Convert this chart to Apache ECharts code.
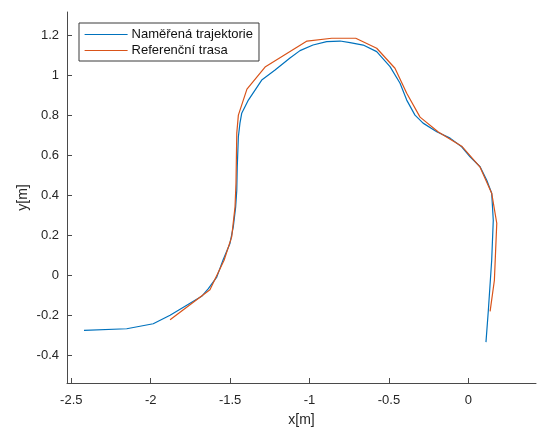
<!DOCTYPE html>
<html>
<head>
<meta charset="utf-8">
<script src="https://cdn.jsdelivr.net/npm/echarts@6/dist/echarts.min.js"></script>
<style>
  html, body { margin: 0; padding: 0; background: #fff; }
  #chart { width: 540px; height: 427px; }
</style>
</head>
<body>
<div id="chart"></div>
<script>
// measured trajectory (x, y in metres)
const measuredX = [-2.420, -2.151, -1.984, -1.878, -1.773, -1.679, -1.637, -1.584, -1.545, -1.501,
  -1.480, -1.465, -1.458, -1.455, -1.448, -1.438, -1.427, -1.385, -1.301, -1.217, -1.123,
  -1.060, -0.978, -0.892, -0.808, -0.745, -0.662, -0.577, -0.493, -0.430, -0.388,
  -0.336, -0.285, -0.199, -0.115, -0.042, 0.011, 0.074, 0.116, 0.147, 0.157,
  0.147, 0.126, 0.111];
const measuredY = [-0.275, -0.267, -0.242, -0.200, -0.150, -0.105, -0.067, -0.009, 0.075, 0.159,
  0.242, 0.342, 0.425, 0.542, 0.692, 0.760, 0.809, 0.875, 0.975, 1.025, 1.085,
  1.122, 1.150, 1.167, 1.170, 1.162, 1.150, 1.117, 1.042, 0.959, 0.875,
  0.800, 0.760, 0.717, 0.685, 0.642, 0.592, 0.542, 0.475, 0.410, 0.275,
  0.075, -0.175, -0.334];

// reference route
const referenceX = [-1.878, -1.627, -1.538, -1.490, -1.469, -1.463, -1.458, -1.448, -1.394, -1.280,
  -1.016, -0.860, -0.709, -0.577, -0.462, -0.388, -0.304, -0.189, -0.042, 0.074,
  0.147, 0.179, 0.164, 0.137];
const referenceY = [-0.222, -0.072, 0.075, 0.192, 0.342, 0.460, 0.710, 0.800, 0.930, 1.040,
  1.170, 1.184, 1.184, 1.134, 1.034, 0.909, 0.790, 0.716, 0.645, 0.540,
  0.410, 0.260, -0.025, -0.180];

const xTicks = [-2.5, -2, -1.5, -1, -0.5, 0];
const yTicks = [-0.4, -0.2, 0, 0.2, 0.4, 0.6, 0.8, 1, 1.2];

const zip = (xs, ys) => xs.map((x, i) => [x, ys[i]]);

const axisColor = '#4a4a4a';
const textColor = '#262626';
const font = 'Liberation Sans, Arial, Helvetica, sans-serif';

function valueAxis(min, max, ticks, name, gap, rotate, margin) {
  return {
    type: 'value',
    min: min,
    max: max,
    name: name,
    nameLocation: 'middle',
    nameGap: gap,
    nameRotate: rotate,
    nameMoveOverlap: false,
    nameTextStyle: { color: textColor, fontSize: 14, fontFamily: font },
    axisLine: { show: true, onZero: false, lineStyle: { color: axisColor, width: 1 } },
    axisTick: { show: true, inside: true, length: 5, customValues: ticks, lineStyle: { color: axisColor } },
    axisLabel: { customValues: ticks, color: textColor, fontSize: 13, fontFamily: font, margin: margin },
    splitLine: { show: false }
  };
}

let chart = echarts.init(document.getElementById('chart'));
chart.setOption({
  animation: false,
  backgroundColor: '#fff',
  grid: { left: 67, right: 4, top: 12, bottom: 44, outerBoundsMode: 'none', containLabel: false },
  xAxis: valueAxis(-2.527, 0.426, xTicks, 'x[m]', 30, 0, 11),
  yAxis: valueAxis(-0.538, 1.315, yTicks, 'y[m]', 37, 90, 8),
  legend: {
    orient: 'vertical',
    left: 79,
    top: 23,
    padding: [5, 6, 4, 5],
    itemWidth: 43,
    itemHeight: 14,
    itemGap: 3,
    backgroundColor: '#fff',
    borderColor: '#3a3a3a',
    borderWidth: 1,
    borderRadius: 0,
    itemStyle: { color: 'transparent', borderColor: 'transparent', borderWidth: 0 },
    lineStyle: { width: 1.2 },
    textStyle: { color: '#111', fontSize: 13, fontFamily: font, padding: [0, 0, 0, -1] },
    data: ['Naměřená trajektorie', 'Referenční trasa']
  },
  series: [
    {
      name: 'Naměřená trajektorie',
      type: 'line',
      data: zip(measuredX, measuredY),
      symbol: 'none',
      lineStyle: { color: '#0072BD', width: 1.2 },
      itemStyle: { color: '#0072BD' }
    },
    {
      name: 'Referenční trasa',
      type: 'line',
      data: zip(referenceX, referenceY),
      symbol: 'none',
      lineStyle: { color: '#D95319', width: 1.2 },
      itemStyle: { color: '#D95319' }
    }
  ]
});
</script>
</body>
</html>
